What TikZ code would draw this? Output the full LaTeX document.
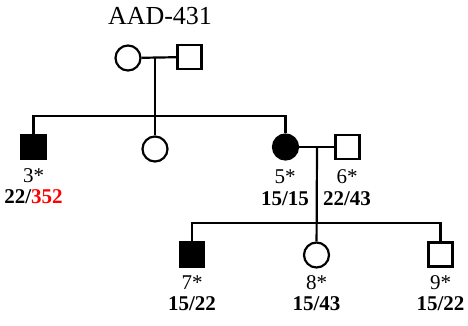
\documentclass[tikz,border=0pt]{standalone}
\usepackage{fontspec}
\setmainfont{Liberation Serif}
\usepackage{tikz}
\newcommand{\HI}[1]{\textcolor{red}{#1}}

\begin{document}
\begin{tikzpicture}[x=1pt,y=-1pt,line width=2.2pt,
    male/.style={draw,rectangle,minimum size=24pt,inner sep=0pt},
    female/.style={draw,circle,minimum size=25pt,inner sep=0pt},
    sick/.style={fill=black},
    idx/.style={font=\fontsize{21}{21}\selectfont,inner sep=0pt},
    geno/.style={font=\fontsize{21}{21}\selectfont\bfseries,inner sep=0pt}]

  \useasboundingbox (0,0) rectangle (468,325);

  \node[font=\fontsize{26}{26}\selectfont,inner sep=0pt] (title) at (160,16) {AAD-431};

  % founders
  \node[female] (f1) at (128,58) {};
  \node[male] (m2) at (189.5,57) {};
  \coordinate (mid1) at (155,58);
  \coordinate (sib1) at (155,116);

  % second generation
  \node[male,sick] (p3) at (33.5,147) {};
  \node[female] (p4) at (155,149) {};
  \node[female,sick] (p5) at (285.5,147) {};
  \node[male] (p6) at (347.5,147) {};
  \coordinate (mid2) at (317,147);
  \coordinate (sib2) at (317,223);

  % third generation
  \node[male,sick] (p7) at (192,254.5) {};
  \node[female] (p8) at (316.5,255) {};
  \node[male] (p9) at (440.5,254.5) {};

  % lines
  \draw (f1) -- (m2); %% f1-m2
  \draw (mid1) -- (p4); %% descent
  \draw (p3.north) |- (sib1) -| (p5.north); %% sibship
  \draw (p5) -- (p6); %% p5-p6
  \draw (mid2) -- (p8); %% descent
  \draw (p7.north) |- (sib2) -| (p9.north); %% sibship

  % labels
  \node[idx] (l3) at (33.5,176) {3*};
  \node[geno] (g3) at (33.5,197) {22/\HI{352}};
  \node[idx] (l5) at (285,177) {5*};
  \node[geno] (g5) at (285,199) {15/15};
  \node[idx] (l6) at (347,177) {6*};
  \node[geno] (g6) at (347,199) {22/43};
  \node[idx] (l7) at (192,283) {7*};
  \node[geno] (g7) at (192,304) {15/22};
  \node[idx] (l8) at (316.5,283) {8*};
  \node[geno] (g8) at (316.5,304) {15/43};
  \node[idx] (l9) at (440.5,283) {9*};
  \node[geno] (g9) at (440.5,304) {15/22};

\end{tikzpicture}
\end{document}
